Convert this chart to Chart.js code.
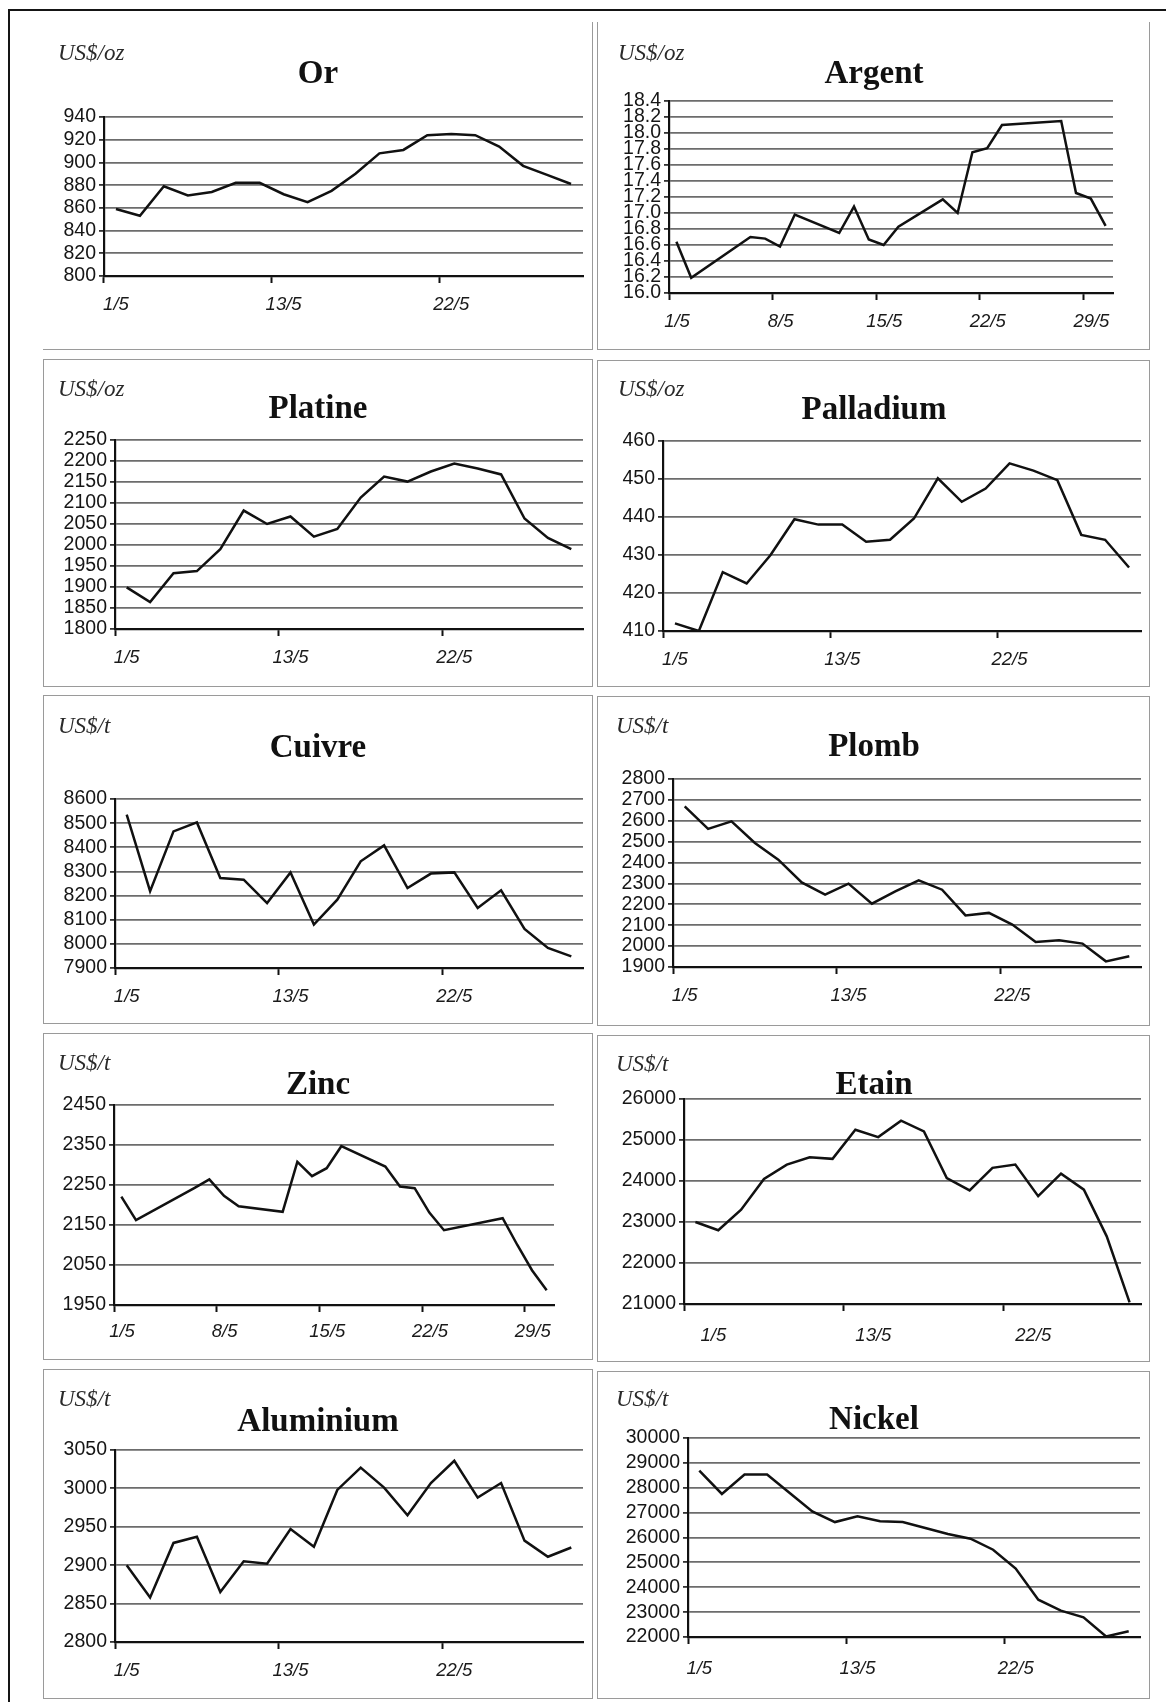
<!DOCTYPE html>
<html>
<head>
<meta charset="utf-8">
<script src="https://cdn.jsdelivr.net/npm/chart.js@4.4.1/dist/chart.umd.min.js"></script>
<style>
html,body{margin:0;padding:0;background:#fff;}
body{width:1166px;height:1702px;position:relative;overflow:hidden;}
.frame{position:absolute;background:#151515;}
.panel{position:absolute;box-sizing:border-box;border:1.5px solid #9a9a9a;}
canvas{position:absolute;}
.title{position:absolute;font-family:"Liberation Serif","Times New Roman",serif;font-weight:bold;font-size:33px;color:#111;transform:translate(-50%,-50%);white-space:nowrap;line-height:1;}
.unit{position:absolute;font-family:"Liberation Serif","Times New Roman",serif;font-style:italic;font-size:23px;color:#2a2a2a;transform:translateY(-50%);white-space:nowrap;line-height:1;}
</style>
</head>
<body>
<div class="frame" style="left:8px;top:9px;width:1158px;height:2px;"></div>
<div class="frame" style="left:8px;top:9px;width:2px;height:1693px;"></div>
<script>
// ---------- categories ----------
const tradingDays = ['1/5','2/5','6/5','7/5','8/5','9/5','12/5','13/5','14/5','15/5','16/5','19/5','20/5','21/5','22/5','23/5','27/5','28/5','29/5','30/5'];
const dayOfMonth = [1,2,6,7,8,9,12,13,14,15,16,19,20,21,22,23,27,28,29,30];

// ---------- x tick labels ----------
const monthTicks = ['1/5','13/5','22/5'];
const weekTicks = ['1/5','8/5','15/5','22/5','29/5'];

// ---------- series values ----------
const orValues = [859,853,879,871,874,882,882,872,865,875,890,908,911,924,925,924,914,897,889,881];
const argentValues = [16.64,16.19,16.70,16.68,16.58,16.98,16.75,17.08,16.67,16.60,16.83,17.17,17.00,17.76,17.81,18.10,18.15,17.25,17.18,16.84];
const platineValues = [1899,1864,1933,1938,1990,2082,2050,2068,2020,2038,2113,2163,2151,2175,2194,2182,2168,2063,2017,1990];
const palladiumValues = [412,410,425.5,422.5,430,439.4,438,438,433.5,434,439.6,450.2,444,447.5,454.1,452.2,449.7,435.3,434,426.7];
const cuivreValues = [8535,8218,8466,8503,8273,8266,8169,8296,8080,8183,8342,8408,8231,8291,8296,8149,8222,8062,7983,7948];
const plombValues = [2669,2561,2597,2494,2414,2305,2246,2299,2203,2262,2315,2270,2147,2159,2103,2020,2028,2012,1927,1951];
const zincValues = [2221,2162,2243,2264,2223,2197,2183,2308,2272,2292,2347,2296,2246,2242,2181,2137,2167,2100,2037,1987];
const etainValues = [23000,22800,23300,24050,24400,24580,24540,25250,25070,25470,25210,24070,23770,24320,24400,23630,24180,23790,22650,21040];
const aluminiumValues = [2900,2858,2929,2937,2865,2905,2902,2947,2924,2998,3027,3001,2965,3007,3036,2988,3007,2932,2911,2923];
const nickelValues = [28690,27750,28530,28530,27790,27050,26620,26850,26650,26620,26380,26140,25950,25510,24750,23500,23060,22790,22020,22230];

// ---------- y tick labels ----------
const orYTicks = [800,820,840,860,880,900,920,940];
const argentYTicks = [16.0,16.2,16.4,16.6,16.8,17.0,17.2,17.4,17.6,17.8,18.0,18.2,18.4];
const platineYTicks = [1800,1850,1900,1950,2000,2050,2100,2150,2200,2250];
const palladiumYTicks = [410,420,430,440,450,460];
const cuivreYTicks = [7900,8000,8100,8200,8300,8400,8500,8600];
const plombYTicks = [1900,2000,2100,2200,2300,2400,2500,2600,2700,2800];
const zincYTicks = [1950,2050,2150,2250,2350,2450];
const etainYTicks = [21000,22000,23000,24000,25000,26000];
const aluminiumYTicks = [2800,2850,2900,2950,3000,3050];
const nickelYTicks = [22000,23000,24000,25000,26000,27000,28000,29000,30000];

// ---------- panels (layout only) ----------
const panels = [
  {title:'Or', unit:'US$/oz', values:orValues, yTicks:orYTicks, xTicks:monthTicks,
   box:[43,22,593,350], plot:[104,117,583,276], titleAt:[318,72], unitAt:[58,52], noTop:true, noLeft:true},
  {title:'Argent', unit:'US$/oz', values:argentValues, yTicks:argentYTicks, xTicks:weekTicks, days:dayOfMonth, dec:1,
   box:[597,22,1150,350], plot:[669,101,1113,293], titleAt:[874,72], unitAt:[618,52], noTop:true},
  {title:'Platine', unit:'US$/oz', values:platineValues, yTicks:platineYTicks, xTicks:monthTicks,
   box:[43,359,593,687], plot:[115,440,583,629], titleAt:[318,407], unitAt:[58,388]},
  {title:'Palladium', unit:'US$/oz', values:palladiumValues, yTicks:palladiumYTicks, xTicks:monthTicks,
   box:[597,360,1150,687], plot:[663,441,1141,631], titleAt:[874,408], unitAt:[618,388]},
  {title:'Cuivre', unit:'US$/t', values:cuivreValues, yTicks:cuivreYTicks, xTicks:monthTicks,
   box:[43,695,593,1024], plot:[115,799,583,968], titleAt:[318,746], unitAt:[58,725]},
  {title:'Plomb', unit:'US$/t', values:plombValues, yTicks:plombYTicks, xTicks:monthTicks,
   box:[597,696,1150,1026], plot:[673,779,1141,967], titleAt:[874,745], unitAt:[616,725]},
  {title:'Zinc', unit:'US$/t', values:zincValues, yTicks:zincYTicks, xTicks:weekTicks, days:dayOfMonth,
   box:[43,1033,593,1360], plot:[114,1105,554,1305], titleAt:[318,1083], unitAt:[58,1062], xGap:27},
  {title:'Etain', unit:'US$/t', values:etainValues, yTicks:etainYTicks, xTicks:monthTicks,
   box:[597,1035,1150,1362], plot:[684,1099,1141,1304], titleAt:[874,1083], unitAt:[616,1063], labelShift:18, xGap:32},
  {title:'Aluminium', unit:'US$/t', values:aluminiumValues, yTicks:aluminiumYTicks, xTicks:monthTicks,
   box:[43,1369,593,1699], plot:[115,1450,583,1642], titleAt:[318,1420], unitAt:[58,1398]},
  {title:'Nickel', unit:'US$/t', values:nickelValues, yTicks:nickelYTicks, xTicks:monthTicks,
   box:[597,1371,1150,1699], plot:[688,1438,1140,1637], titleAt:[874,1418], unitAt:[616,1398], xGap:32}
];

Chart.defaults.font.family = '"Liberation Sans", Arial, sans-serif';
Chart.defaults.color = '#1a1a1a';

function addEl(cls, text, style) {
  const d = document.createElement('div');
  d.className = cls;
  if (text) d.textContent = text;
  Object.assign(d.style, style);
  document.body.appendChild(d);
  return d;
}

function build(p) {
  const [bl, bt, br, bb] = p.box;
  const [pl, pt, pr, pb] = p.plot;
  const panelStyle = {left: bl+'px', top: bt+'px', width: (br-bl)+'px', height: (bb-bt)+'px'};
  if (p.noTop) panelStyle.borderTop = 'none';
  if (p.noLeft) panelStyle.borderLeft = 'none';
  addEl('panel', null, panelStyle);

  const canvas = document.createElement('canvas');
  canvas.width = br - bl;
  canvas.height = bb - bt;
  canvas.style.left = bl + 'px';
  canvas.style.top = bt + 'px';
  document.body.appendChild(canvas);

  addEl('title', p.title, {left: p.titleAt[0]+'px', top: p.titleAt[1]+'px'});
  addEl('unit', p.unit, {left: p.unitAt[0]+'px', top: p.unitAt[1]+'px'});

  const yW = pl - bl;
  const xH = bb - pb;
  const xFontSize = 18.5;
  const xTickLen = 7;
  const xPad = (p.xGap || 29) - xTickLen - xFontSize * 0.6;
  const isDate = !!p.days;
  const dayTick = l => parseInt(l, 10) - 0.5;

  let xScale, data;
  const xFont = {size: xFontSize, style: 'italic'};
  if (isDate) {
    data = {datasets: [{data: p.days.map((d, i) => ({x: d, y: p.values[i]}))}]};
    xScale = {
      type: 'linear', min: 0.5, max: 30.5,
      afterBuildTicks: s => { s.ticks = p.xTicks.map(l => ({value: dayTick(l)})); },
      afterFit: s => { s.height = xH; },
      ticks: {
        font: xFont, color: '#1a1a1a', padding: xPad, maxRotation: 0, minRotation: 0,
        labelOffset: 8, autoSkip: false,
        callback: v => { const l = p.xTicks.find(t => dayTick(t) === v); return l || ''; }
      },
      grid: {drawOnChartArea: false, drawTicks: true, tickLength: xTickLen, tickWidth: 2, tickColor: '#111'},
      border: {display: true, color: '#111', width: 2.2}
    };
  } else {
    data = {labels: tradingDays, datasets: [{data: p.values}]};
    xScale = {
      type: 'category', offset: true,
      afterFit: s => { s.height = xH; },
      ticks: {
        font: xFont, color: '#1a1a1a', padding: xPad, maxRotation: 0, minRotation: 0,
        autoSkip: false, labelOffset: p.labelShift || 0,
        callback: function(v) { const l = this.getLabelForValue(v); return p.xTicks.includes(l) ? l : ''; }
      },
      grid: {
        offset: true, drawOnChartArea: false, drawTicks: true, tickLength: xTickLen, tickWidth: 2,
        tickColor: ctx => (ctx.index !== undefined && p.xTicks.includes(tradingDays[ctx.index])) ? '#111' : 'rgba(0,0,0,0)'
      },
      border: {display: true, color: '#111', width: 2.2}
    };
  }

  const yMin = p.yTicks[0], yMax = p.yTicks[p.yTicks.length - 1];
  const yScale = {
    type: 'linear', min: yMin, max: yMax,
    afterBuildTicks: s => { s.ticks = p.yTicks.map(v => ({value: v})); },
    afterFit: s => { s.width = yW; },
    ticks: {
      font: {size: 19.5}, color: '#151515', padding: 3, autoSkip: false,
      callback: v => p.dec ? Number(v).toFixed(p.dec) : String(v)
    },
    grid: {color: '#6c6c6c', lineWidth: 1.8, drawTicks: true, tickLength: 5, tickColor: '#333', tickWidth: 1.8},
    border: {display: true, color: '#111', width: 2.2}
  };

  new Chart(canvas, {
    type: 'line',
    data: data,
    options: {
      responsive: false,
      animation: false,
      devicePixelRatio: 1,
      events: [],
      layout: {padding: {left: 0, top: pt - bt, right: br - pr, bottom: 0}},
      elements: {
        line: {borderColor: '#111', borderWidth: 2.5, tension: 0, fill: false},
        point: {radius: 0}
      },
      plugins: {legend: {display: false}, tooltip: {enabled: false}, title: {display: false}},
      scales: {x: xScale, y: yScale}
    }
  });
}

panels.forEach(build);
</script>
</body>
</html>
